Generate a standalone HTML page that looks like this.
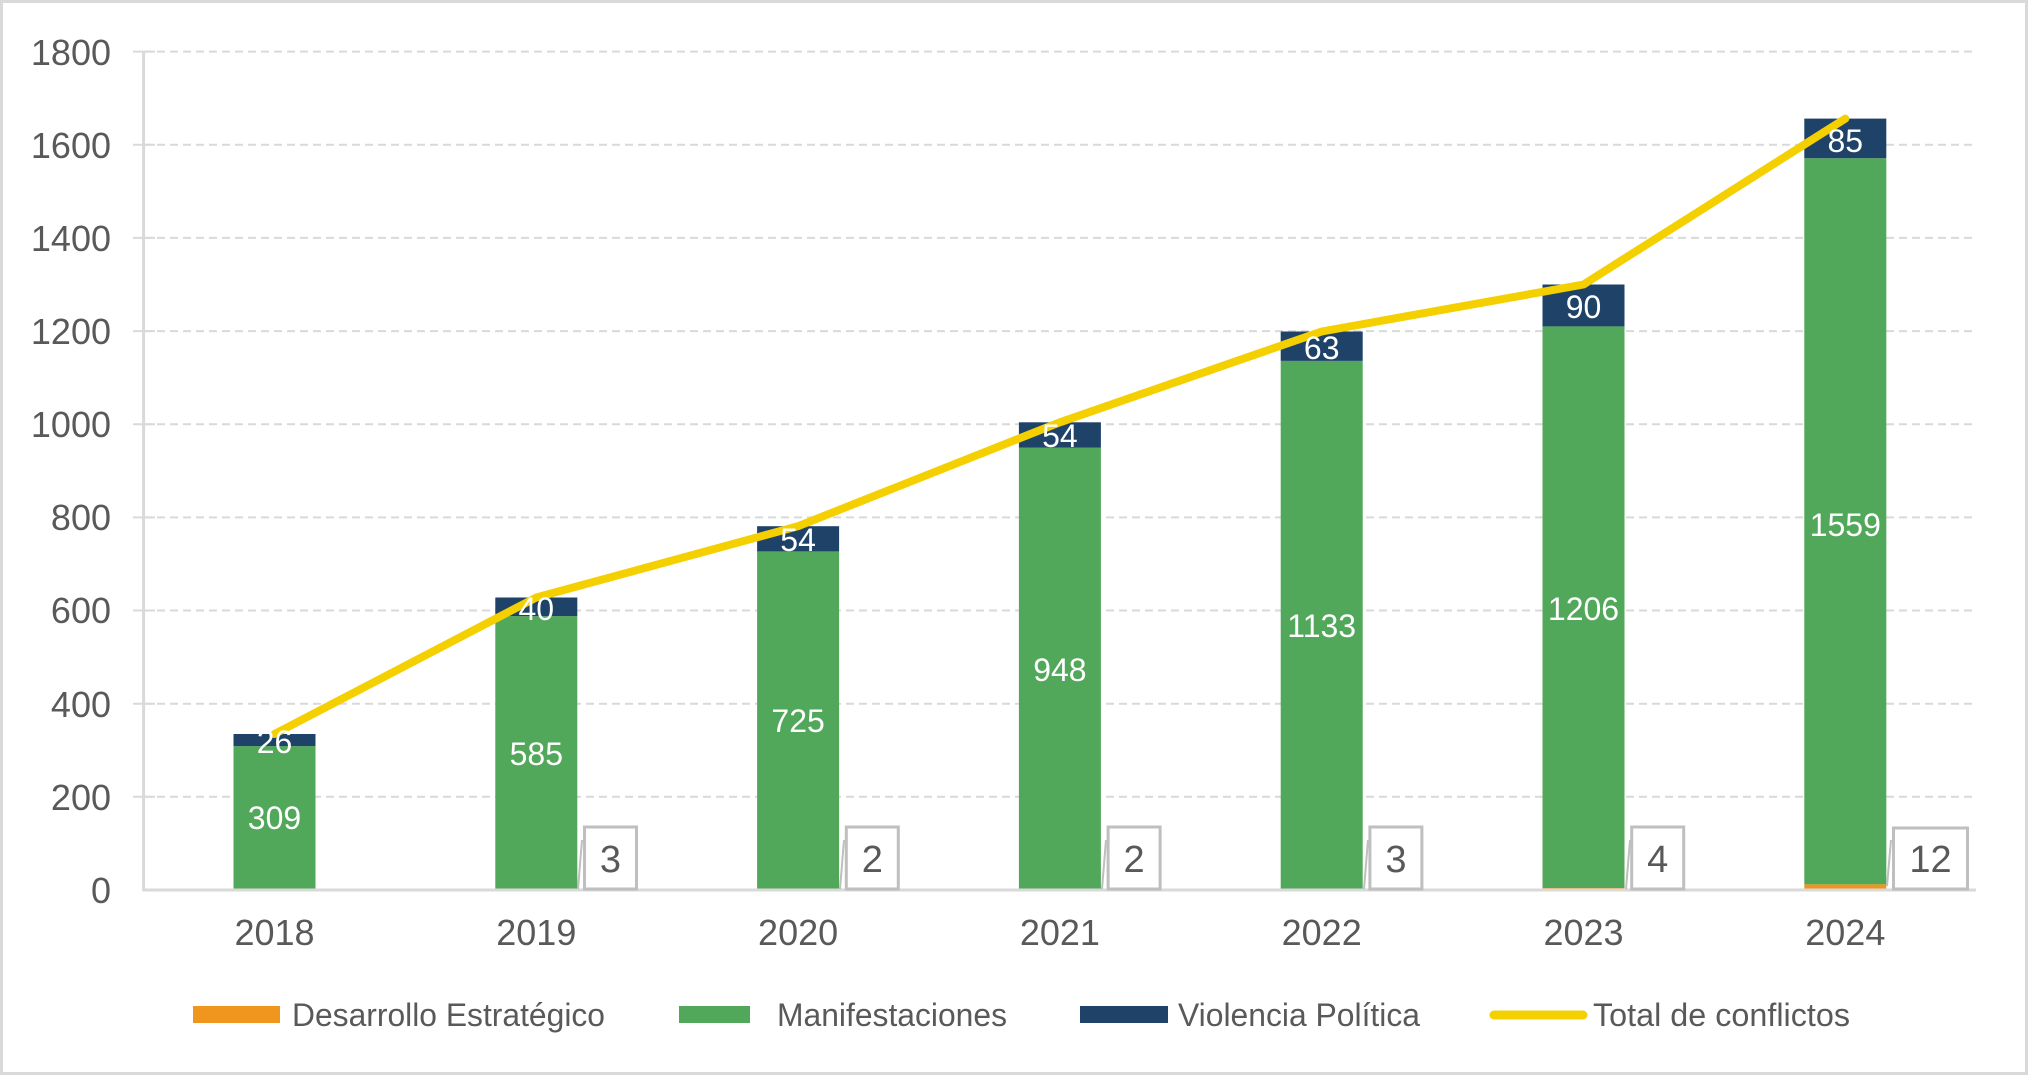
<!DOCTYPE html>
<html><head><meta charset="utf-8"><style>
html,body{margin:0;padding:0;background:#fff;}
svg{display:block;font-family:"Liberation Sans",Arial,sans-serif;}
</style></head><body>
<svg width="2028" height="1075" viewBox="0 0 2028 1075" xmlns="http://www.w3.org/2000/svg">
<rect x="1.5" y="1.5" width="2025" height="1072" fill="#fff" stroke="#d9d9d9" stroke-width="3"/>
<g stroke="#d9d9d9" stroke-width="2" stroke-dasharray="8,5">
<line x1="144" y1="51.6" x2="1976" y2="51.6"/>
<line x1="144" y1="144.8" x2="1976" y2="144.8"/>
<line x1="144" y1="237.9" x2="1976" y2="237.9"/>
<line x1="144" y1="331.1" x2="1976" y2="331.1"/>
<line x1="144" y1="424.2" x2="1976" y2="424.2"/>
<line x1="144" y1="517.4" x2="1976" y2="517.4"/>
<line x1="144" y1="610.5" x2="1976" y2="610.5"/>
<line x1="144" y1="703.7" x2="1976" y2="703.7"/>
<line x1="144" y1="796.8" x2="1976" y2="796.8"/>
</g>
<g stroke="#d9d9d9" stroke-width="2">
<line x1="133" y1="51.6" x2="155" y2="51.6"/><line x1="133" y1="144.8" x2="155" y2="144.8"/><line x1="133" y1="237.9" x2="155" y2="237.9"/><line x1="133" y1="331.1" x2="155" y2="331.1"/><line x1="133" y1="424.2" x2="155" y2="424.2"/><line x1="133" y1="517.4" x2="155" y2="517.4"/><line x1="133" y1="610.5" x2="155" y2="610.5"/><line x1="133" y1="703.7" x2="155" y2="703.7"/><line x1="133" y1="796.8" x2="155" y2="796.8"/>
</g>
<line x1="143.6" y1="51" x2="143.6" y2="891" stroke="#d9d9d9" stroke-width="3"/>
<g fill="#595959" font-size="36" text-anchor="end">
<text x="111" y="65">1800</text><text x="111" y="158">1600</text><text x="111" y="251">1400</text><text x="111" y="344">1200</text><text x="111" y="437">1000</text><text x="111" y="530">800</text><text x="111" y="623">600</text><text x="111" y="717">400</text><text x="111" y="810">200</text><text x="111" y="903">0</text>
</g>
<g>
<rect x="233.5" y="746.1" width="82" height="143.9" fill="#52a85a"/><rect x="233.5" y="734" width="82" height="12.1" fill="#1f4368"/>
<rect x="495.3" y="616.1" width="82" height="272.5" fill="#52a85a"/><rect x="495.3" y="597.5" width="82" height="18.6" fill="#1f4368"/><rect x="495.3" y="888.6" width="82" height="1.4" fill="#f0961e"/>
<rect x="757.1" y="551.4" width="82" height="337.7" fill="#52a85a"/><rect x="757.1" y="526.2" width="82" height="25.2" fill="#1f4368"/><rect x="757.1" y="889.1" width="82" height="0.9" fill="#f0961e"/>
<rect x="1018.9" y="447.5" width="82" height="441.6" fill="#52a85a"/><rect x="1018.9" y="422.3" width="82" height="25.2" fill="#1f4368"/><rect x="1018.9" y="889.1" width="82" height="0.9" fill="#f0961e"/>
<rect x="1280.7" y="360.9" width="82" height="527.7" fill="#52a85a"/><rect x="1280.7" y="331.5" width="82" height="29.4" fill="#1f4368"/><rect x="1280.7" y="888.6" width="82" height="1.4" fill="#f0961e"/>
<rect x="1542.5" y="326.4" width="82" height="561.7" fill="#52a85a"/><rect x="1542.5" y="284.5" width="82" height="41.9" fill="#1f4368"/><rect x="1542.5" y="888.1" width="82" height="1.9" fill="#f0961e"/>
<rect x="1804.3" y="158.2" width="82" height="726.2" fill="#52a85a"/><rect x="1804.3" y="118.6" width="82" height="39.6" fill="#1f4368"/><rect x="1804.3" y="884.4" width="82" height="5.6" fill="#f0961e"/>
</g>
<line x1="143" y1="890" x2="1976" y2="890" stroke="#d9d9d9" stroke-width="3"/>
<polyline points="274.5,734 536.3,597.5 798.1,526.2 1059.9,422.3 1321.7,331.5 1583.5,284.5 1845.3,118.6" fill="none" stroke="#f5d000" stroke-width="8" stroke-linecap="round" stroke-linejoin="round"/>
<g fill="#fff" font-size="32" text-anchor="middle">
<text x="274.5" y="829">309</text><text x="274.5" y="753">26</text>
<text x="536.3" y="765">585</text><text x="536.3" y="620">40</text>
<text x="798.1" y="732">725</text><text x="798.1" y="551">54</text>
<text x="1059.9" y="681">948</text><text x="1059.9" y="447">54</text>
<text x="1321.7" y="637">1133</text><text x="1321.7" y="359">63</text>
<text x="1583.5" y="620">1206</text><text x="1583.5" y="318">90</text>
<text x="1845.3" y="536">1559</text><text x="1845.3" y="152">85</text>
</g>
<g fill="#fff" stroke="#bfbfbf" stroke-width="3">
<rect x="584.5" y="827" width="52" height="62"/>
<rect x="846.3" y="827" width="52" height="62"/>
<rect x="1108.1" y="827" width="52" height="62"/>
<rect x="1369.9" y="827" width="52" height="62"/>
<rect x="1631.7" y="827" width="52" height="62"/>
<rect x="1893.5" y="828" width="74" height="61"/>
</g>
<g stroke="#bfbfbf" stroke-width="2">
<line x1="578" y1="889" x2="582" y2="840"/><line x1="840" y1="889" x2="844" y2="840"/><line x1="1102" y1="889" x2="1106" y2="840"/><line x1="1364" y1="889" x2="1368" y2="840"/><line x1="1626" y1="889" x2="1630" y2="840"/><line x1="1887" y1="886" x2="1891" y2="840"/>
</g>
<g fill="#595959" font-size="38" text-anchor="middle">
<text x="610.5" y="872">3</text><text x="872.3" y="872">2</text><text x="1134.1" y="872">2</text><text x="1395.9" y="872">3</text><text x="1657.7" y="872">4</text><text x="1930.5" y="872">12</text>
</g>
<g fill="#595959" font-size="36" text-anchor="middle">
<text x="274.5" y="945">2018</text><text x="536.3" y="945">2019</text><text x="798.1" y="945">2020</text><text x="1059.9" y="945">2021</text><text x="1321.7" y="945">2022</text><text x="1583.5" y="945">2023</text><text x="1845.3" y="945">2024</text>
</g>
<rect x="193" y="1006" width="87" height="17" fill="#f0961e"/>
<rect x="679" y="1006" width="71" height="17" fill="#52a85a"/>
<rect x="1080" y="1006" width="88" height="17" fill="#1f4368"/>
<line x1="1494" y1="1015" x2="1583" y2="1015" stroke="#f5d000" stroke-width="9" stroke-linecap="round"/>
<g fill="#595959" font-size="32">
<text x="292" y="1026" textLength="313" lengthAdjust="spacingAndGlyphs">Desarrollo Estratégico</text>
<text x="777" y="1026" textLength="230" lengthAdjust="spacingAndGlyphs">Manifestaciones</text>
<text x="1178" y="1026" textLength="242" lengthAdjust="spacingAndGlyphs">Violencia Política</text>
<text x="1593" y="1026" textLength="257" lengthAdjust="spacingAndGlyphs">Total de conflictos</text>
</g>
</svg>
</body></html>
